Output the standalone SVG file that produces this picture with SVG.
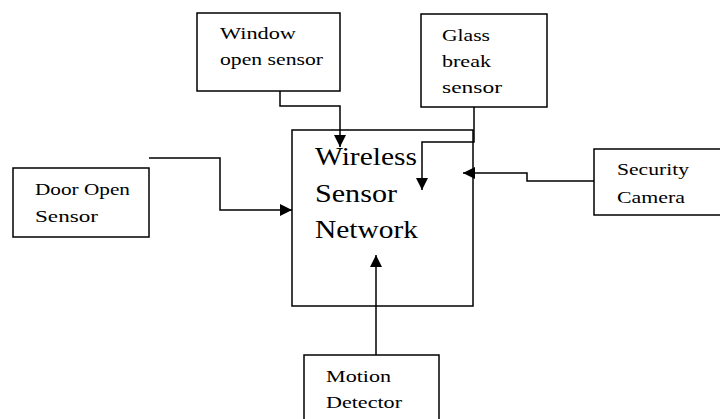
<svg xmlns="http://www.w3.org/2000/svg" width="720" height="419" viewBox="0 0 720 419">
<style>
.box{fill:#fff;stroke:#000;stroke-width:1.5}
.ln{fill:none;stroke:#000;stroke-width:1.5}
.t{font-family:"Liberation Serif","Times New Roman",serif;font-size:17px;fill:#000}
.big{font-family:"Liberation Serif","Times New Roman",serif;font-size:25px;fill:#000}
</style>
<defs>
<marker id="ah" viewBox="0 0 10 10" refX="10" refY="5" markerWidth="12" markerHeight="12" markerUnits="userSpaceOnUse" orient="auto">
<path d="M0,0 L10,5 L0,10 z" fill="#000"/>
</marker>
</defs>
<g id="wsn">
<rect class="box" x="292" y="130" width="181" height="176"/>
<text class="big" x="315" y="165" textLength="102" lengthAdjust="spacingAndGlyphs">Wireless</text>
<text class="big" x="315" y="202" textLength="82" lengthAdjust="spacingAndGlyphs">Sensor</text>
<text class="big" x="315" y="238" textLength="103" lengthAdjust="spacingAndGlyphs">Network</text>
</g>
<g id="window">
<rect class="box" x="197" y="13" width="143" height="78"/>
<text class="t" x="220" y="39" textLength="76" lengthAdjust="spacingAndGlyphs">Window</text>
<text class="t" x="220" y="65" textLength="103" lengthAdjust="spacingAndGlyphs">open sensor</text>
</g>
<g id="glass">
<rect class="box" x="421" y="14" width="126" height="93"/>
<text class="t" x="442" y="41" textLength="48" lengthAdjust="spacingAndGlyphs">Glass</text>
<text class="t" x="442" y="67" textLength="49" lengthAdjust="spacingAndGlyphs">break</text>
<text class="t" x="442" y="93" textLength="60" lengthAdjust="spacingAndGlyphs">sensor</text>
</g>
<g id="door">
<rect class="box" x="13" y="168" width="136" height="69"/>
<text class="t" x="35" y="195" textLength="95" lengthAdjust="spacingAndGlyphs">Door Open</text>
<text class="t" x="35" y="222" textLength="63" lengthAdjust="spacingAndGlyphs">Sensor</text>
</g>
<g id="camera">
<rect class="box" x="594" y="149" width="140" height="66"/>
<text class="t" x="617" y="175" textLength="72" lengthAdjust="spacingAndGlyphs">Security</text>
<text class="t" x="617" y="203" textLength="68" lengthAdjust="spacingAndGlyphs">Camera</text>
</g>
<g id="motion">
<rect class="box" x="304" y="355" width="135" height="70"/>
<text class="t" x="326" y="382" textLength="65" lengthAdjust="spacingAndGlyphs">Motion</text>
<text class="t" x="326" y="408" textLength="76" lengthAdjust="spacingAndGlyphs">Detector</text>
</g>
<g id="connectors">
<path class="ln" d="M280,91 V106 H340 V147" marker-end="url(#ah)"/>
<path class="ln" d="M474,107 V142 H422 V190" marker-end="url(#ah)"/>
<path class="ln" d="M594,181 H527 V173 H463" marker-end="url(#ah)"/>
<path class="ln" d="M149,158 H220 V210 H292" marker-end="url(#ah)"/>
<path class="ln" d="M376,355 V255" marker-end="url(#ah)"/>
</g>
</svg>
